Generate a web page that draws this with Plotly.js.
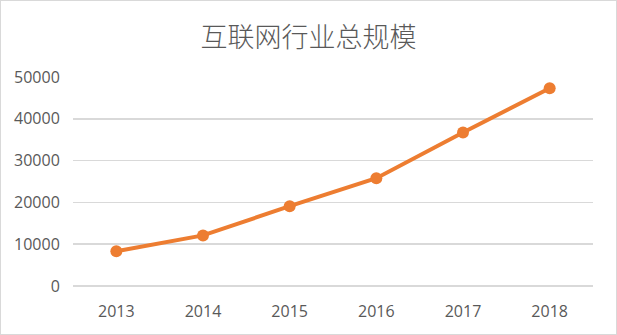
<!DOCTYPE html>
<html>
<head>
<meta charset="utf-8">
<script src="https://cdn.plot.ly/plotly-3.0.1.min.js"></script>
<style>
html,body{margin:0;padding:0;background:#fff;}
#frame{position:absolute;left:0;top:0;width:617px;height:335px;box-sizing:border-box;border:1px solid #d9d9d9;background:#fff;}
#chart{width:615px;height:333px;}
</style>
</head>
<body>
<div id="frame"><div id="chart"></div></div>
<script>
const years = ['2013','2014','2015','2016','2017','2018'];
const totalScale = [8300, 12100, 19100, 25800, 36700, 47300];
const yTicks = [0, 10000, 20000, 30000, 40000, 50000];
const chartTitle = '互联网行业总规模';

const trace = {
  x: years,
  y: totalScale,
  type: 'scatter',
  mode: 'lines+markers',
  line: {color: '#ED7D31', width: 4},
  marker: {color: '#ED7D31', size: 12},
  hoverinfo: 'x+y'
};

const layout = {
  width: 615,
  height: 333,
  margin: {l: 72, r: 23, t: 76, b: 48},
  paper_bgcolor: '#ffffff',
  plot_bgcolor: '#ffffff',
  showlegend: false,
  title: {
    text: chartTitle,
    font: {family: '"Noto Sans CJK SC", sans-serif', size: 27, color: '#595959', weight: 300},
    xref: 'container', x: 0.5, xanchor: 'center',
    yref: 'container', y: 0.889, yanchor: 'middle'
  },
  xaxis: {
    type: 'category',
    range: [-0.5, 5.5],
    showgrid: false,
    zeroline: false,
    showline: false,
    ticks: 'outside', ticklen: 11, tickcolor: 'rgba(0,0,0,0)',
    tickfont: {family: '"Open Sans", sans-serif', size: 16, color: '#595959'},
    fixedrange: true
  },
  yaxis: {
    range: [0, 50000],
    tickvals: yTicks,
    ticktext: yTicks.map(String),
    showgrid: true,
    gridcolor: '#d9d9d9',
    gridwidth: 1.5,
    zeroline: true,
    zerolinecolor: '#d9d9d9',
    zerolinewidth: 1.5,
    showline: false,
    ticks: 'outside', ticklen: 9, tickcolor: 'rgba(0,0,0,0)',
    tickfont: {family: '"Open Sans", sans-serif', size: 16, color: '#595959'},
    fixedrange: true
  }
};

Plotly.newPlot('chart', [trace], layout, {displayModeBar: false, staticPlot: true});
</script>
</body>
</html>
